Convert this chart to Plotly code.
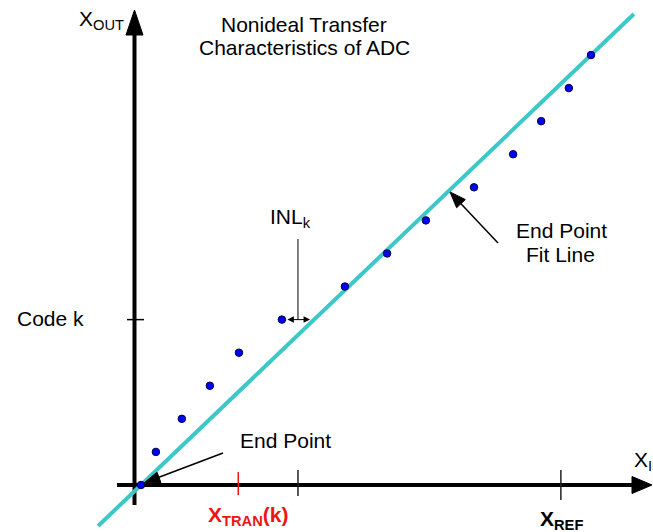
import math
import plotly.graph_objects as go

# ---------------- data ----------------
codes = [0, 1, 2, 3, 4, 5, 6, 7, 8, 9, 10, 11, 12, 13]
x_in = [0.0, 0.43, 1.18, 1.99, 2.83, 4.07, 5.89, 7.11, 8.23, 9.62, 10.75, 11.56, 12.36, 13.0]
code_k = 5            # index of "Code k"
x_tran_k = 2.81       # X_TRAN(k) tick position
x_ref = 12.13         # X_REF tick position
fit_ext = [-1.24, 14.24]  # drawn extent of end-point fit line (x)

# ---------------- canvas mapping ----------------
W, H = 653, 532
ORG_X, ORG_Y = 141, 485          # pixel position of data (0, 0)
SX, SY = 450 / 13, 430 / 13      # pixels per data unit


def px2x(px):
    return (px - ORG_X) / SX


def py2y(py):
    return (ORG_Y - py) / SY


FONT = "Liberation Sans, Arial, sans-serif"
TEAL = "#3CC8C8"
RED = "#EE1515"

# end-point fit line derived from first/last points
slope = (codes[-1] - codes[0]) / (x_in[-1] - x_in[0])


def fit(x):
    return codes[0] + slope * (x - x_in[0])


fit_y = [fit(x) for x in fit_ext]

fig = go.Figure()
fig.add_trace(go.Scatter(x=fit_ext, y=fit_y, mode="lines",
                         line=dict(color=TEAL, width=4), hoverinfo="skip"))
fig.add_trace(go.Scatter(x=x_in, y=codes, mode="markers",
                         marker=dict(size=7.5, color="#0000FF",
                                     line=dict(color="#000040", width=1)),
                         hoverinfo="skip"))

shapes = []


def tri(tip, base_c, width, color="black"):
    (hx, hy), (bx, by) = tip, base_c
    dx, dy = hx - bx, hy - by
    L = math.hypot(dx, dy)
    nx, ny = -dy / L, dx / L
    p1 = (bx + nx * width / 2, by + ny * width / 2)
    p2 = (bx - nx * width / 2, by - ny * width / 2)
    path = "M{},{} L{},{} L{},{} Z".format(
        px2x(hx), py2y(hy), px2x(p1[0]), py2y(p1[1]), px2x(p2[0]), py2y(p2[1]))
    return dict(type="path", path=path, fillcolor=color,
                line=dict(color=color, width=1), layer="above")


def arrow(tail, tip, head_len, head_w, lw=1.5):
    (tx, ty), (hx, hy) = tail, tip
    dx, dy = hx - tx, hy - ty
    L = math.hypot(dx, dy)
    bx, by = hx - dx / L * head_len, hy - dy / L * head_len
    return [dict(type="line", x0=px2x(tx), y0=py2y(ty), x1=px2x(bx), y1=py2y(by),
                 line=dict(color="black", width=lw), layer="above"),
            tri((hx, hy), (bx, by), head_w)]


# axes (drawn below the traces)
AX_X = px2x(134.5)
shapes.append(dict(type="line", x0=px2x(117), x1=px2x(632), y0=0, y1=0,
                   line=dict(color="black", width=4), layer="below"))
shapes.append(dict(type="line", x0=AX_X, x1=AX_X, y0=py2y(505), y1=py2y(34),
                   line=dict(color="black", width=4), layer="below"))
shapes.append(tri((134.5, 10), (134.5, 35), 17))
shapes.append(tri((652, 485), (632, 485), 17))

# ticks
shapes.append(dict(type="line", x0=px2x(127), x1=px2x(144), y0=code_k, y1=code_k,
                   line=dict(color="black", width=1.5)))
shapes.append(dict(type="line", x0=x_tran_k, x1=x_tran_k, y0=py2y(472), y1=py2y(495),
                   line=dict(color=RED, width=1.5)))
inl_mid = (x_in[code_k] + (code_k - codes[0]) / slope + x_in[0]) / 2
shapes.append(dict(type="line", x0=inl_mid, x1=inl_mid, y0=py2y(470), y1=py2y(496),
                   line=dict(color="#222", width=1.5)))
shapes.append(dict(type="line", x0=x_ref, x1=x_ref, y0=py2y(470), y1=py2y(500),
                   line=dict(color="#222", width=1.5)))

# INL vertical leader
shapes.append(dict(type="line", x0=inl_mid, x1=inl_mid, y0=py2y(239), y1=code_k,
                   line=dict(color="black", width=1)))

# End Point arrow and End Point Fit Line arrow
shapes += arrow((223, 453), (144, 483), 16, 11)
shapes += arrow((498, 243), (450, 192), 16, 12)

annotations = []


def label(text, px, py, anchor="left", size=21, color="black"):
    annotations.append(dict(text=text, x=px2x(px), y=py2y(py), xref="x", yref="y",
                            xanchor=anchor, yanchor="middle", showarrow=False,
                            font=dict(family=FONT, size=size, color=color)))


label("Nonideal Transfer", 304, 24.5, "center")
label("Characteristics of ADC", 304, 47.5, "center")
label("X<sub>OUT</sub>", 77, 20)
label("Code k", 15, 318.5)
label("INL<sub>k</sub>", 268, 218)
label("End Point", 238, 440.5)
label("End Point", 561, 230, "center")
label("Fit Line", 560, 254.5, "center")
label("<b>X<sub>TRAN</sub>(k)</b>", 206, 516, color=RED)
label("<b>X<sub>REF</sub></b>", 538, 519.5)
label("X<sub>IN</sub>", 632, 461)

# INL double arrow between code-k point and fit line
annotations.append(dict(x=(code_k - codes[0]) / slope + x_in[0], y=code_k,
                        ax=x_in[code_k], ay=code_k, axref="x", ayref="y",
                        xref="x", yref="y", text="", showarrow=True,
                        arrowside="end+start", arrowhead=2, startarrowhead=2,
                        arrowsize=1.3, startarrowsize=1.3, arrowwidth=1,
                        arrowcolor="black", standoff=4, startstandoff=4))

fig.update_layout(
    width=W, height=H, autosize=False,
    margin=dict(l=0, r=0, t=0, b=0),
    paper_bgcolor="white", plot_bgcolor="white",
    showlegend=False, hovermode=False,
    xaxis=dict(range=[px2x(0), px2x(W)], visible=False, fixedrange=True),
    yaxis=dict(range=[py2y(H), py2y(0)], visible=False, fixedrange=True),
    shapes=shapes, annotations=annotations,
)

fig.write_html("out.html", config={"displayModeBar": False},
               post_script="document.body.style.margin='0';"
                           "document.body.style.overflow='hidden';")
